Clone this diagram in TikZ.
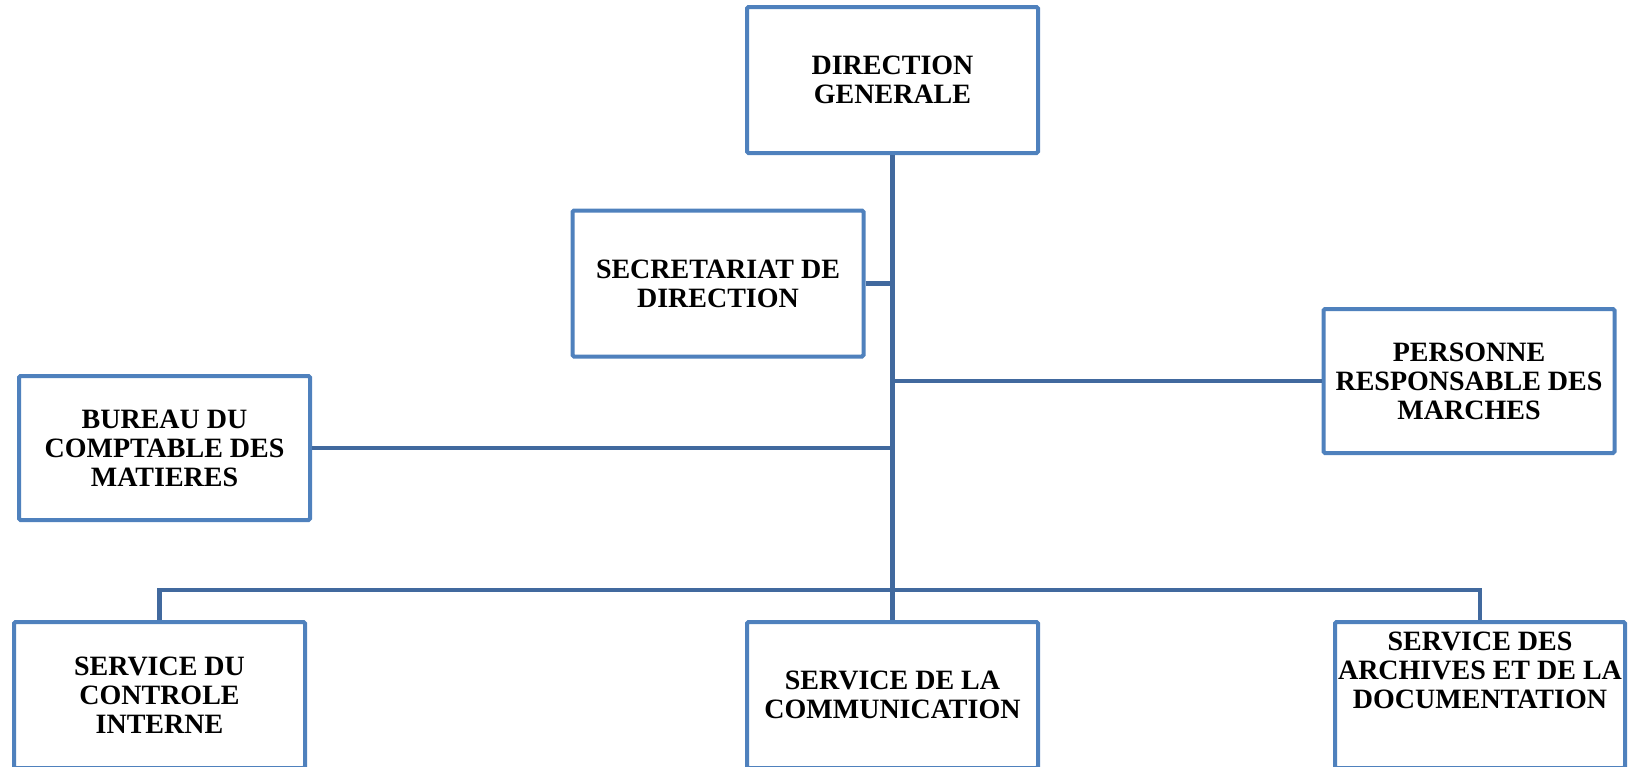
\documentclass[tikz,border=0pt]{standalone}
\usepackage{fontspec}
\setmainfont{Liberation Serif}
\definecolor{boxblue}{RGB}{79,129,189}
\definecolor{lineblue}{RGB}{65,105,158}
\tikzset{
  orgbox/.style={draw=boxblue, line width=4pt, rounded corners=1.5pt, fill=white,
    minimum width=291pt, minimum height=146pt, inner sep=0pt, align=center,
    font=\bfseries\fontsize{28}{29}\selectfont},
  conn/.style={draw=lineblue, line width=4.5pt},
}

\begin{document}
\begin{tikzpicture}[x=1pt, y=-1pt]
  \useasboundingbox (0,0) rectangle (1629,766);
  \clip (0,0) rectangle (1629,766);

  % boxes
  \node[orgbox] (dg) at (892.5,80) {DIRECTION\\GENERALE};
  \node[orgbox] (sec) at (718,283.5) {SECRETARIAT DE\\DIRECTION};
  \node[orgbox, minimum height=144pt] (prm) at (1469,381) {PERSONNE\\RESPONSABLE DES\\MARCHES};
  \node[orgbox, minimum height=144pt] (bcm) at (164.5,448) {BUREAU DU\\COMPTABLE DES\\MATIERES};
  \node[orgbox] (sci) at (159.5,695) {SERVICE DU\\CONTROLE\\INTERNE};
  \node[orgbox] (scom) at (892.5,695) {SERVICE DE LA\\COMMUNICATION};
  \node[orgbox, minimum width=290pt, text depth=50pt] (sad) at (1480,695) {SERVICE DES\\ARCHIVES ET DE LA\\DOCUMENTATION};

  % connectors
  \draw[conn] (dg.south) -- (scom.north);
  \draw[conn] (sec.east) -- (sec.east -| dg.south);
  \draw[conn] (prm.west) -- (prm.west -| dg.south);
  \draw[conn] (bcm.east) -- (bcm.east -| dg.south);
  \draw[conn] (sci.north) -- ++(0,-30) -| (sad.north);
\end{tikzpicture}
\end{document}
